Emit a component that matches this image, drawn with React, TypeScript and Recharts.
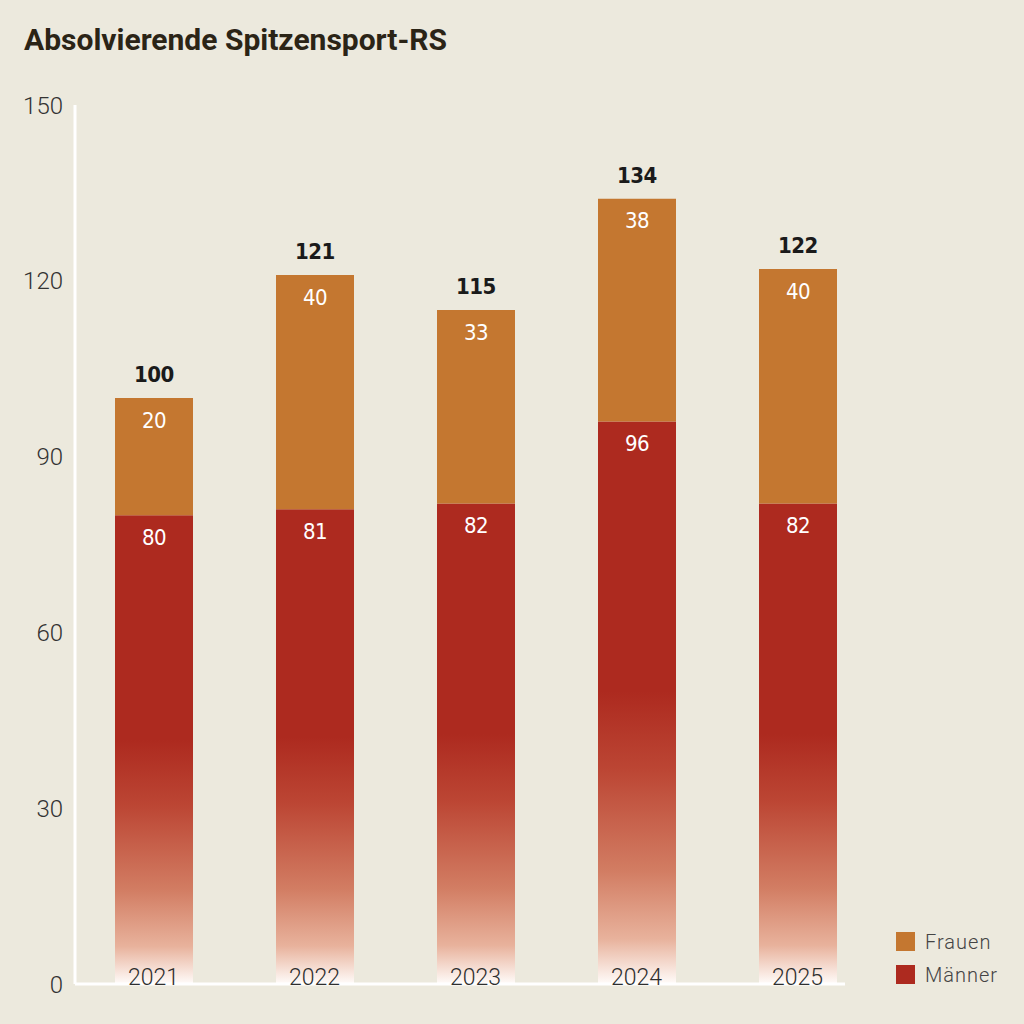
import React from 'react';
import { BarChart, Bar, XAxis, YAxis, LabelList } from 'recharts';

const YEARS = ['2021', '2022', '2023', '2024', '2025'];
const MAENNER = [80, 81, 82, 96, 82];
const FRAUEN = [20, 40, 33, 38, 40];
const Y_TICKS = [0, 30, 60, 90, 120, 150];

const BG = '#ECE9DD';
const RED = '#AD2A1F';
const ORANGE = '#C47730';
const NARROW = "'DejaVu Sans Condensed', 'DejaVu Sans', sans-serif";
const labelStyle = { fontStretch: 'condensed', letterSpacing: -0.5 } as React.CSSProperties;

const data = YEARS.map((year, i) => ({
  year,
  maenner: MAENNER[i],
  frauen: FRAUEN[i],
  total: MAENNER[i] + FRAUEN[i],
}));

const YearTick = (props: any) => {
  const { x, y, payload } = props;
  return (
    <text
      x={x}
      y={y}
      dy={1}
      textAnchor="middle"
      fontFamily="Roboto"
      fontWeight={300}
      fontSize={23}
      fill="#2e2e2e"
    >
      {payload.value}
    </text>
  );
};

const LEGEND_ITEMS = [
  { label: 'Frauen', color: ORANGE },
  { label: 'Männer', color: RED },
];

const App: React.FC = () => {
  return (
    <div style={{ position: 'absolute', left: 0, top: 0, width: 1024, height: 1024, background: BG }}>
      <div
        style={{
          position: 'absolute',
          left: 24,
          top: 22,
          fontFamily: 'Roboto',
          fontWeight: 700,
          fontSize: 30,
          color: '#2b2416',
        }}
      >
        Absolvierende Spitzensport-RS
      </div>
      <BarChart
        width={1024}
        height={1024}
        data={data}
        margin={{ top: 105, right: 179, bottom: 0, left: 0 }}
        barSize={78}
      >
        <defs>
          <linearGradient id="maennerFade" x1="0" y1="0" x2="0" y2="1">
            <stop offset="0.48" stopColor={RED} />
            <stop offset="0.62" stopColor="#BC4634" />
            <stop offset="0.8" stopColor="#D27D63" />
            <stop offset="0.92" stopColor="#E8B29C" />
            <stop offset="1" stopColor="#FFFCFA" />
          </linearGradient>
        </defs>
        <XAxis
          dataKey="year"
          height={40}
          padding={{ left: -2, right: -33 }}
          axisLine={{ stroke: '#ffffff', strokeWidth: 3 }}
          tickLine={false}
          tickSize={0}
          tickMargin={0}
          tick={<YearTick />}
          interval={0}
        />
        <YAxis
          width={75}
          domain={[0, 150]}
          ticks={Y_TICKS}
          axisLine={{ stroke: '#ffffff', strokeWidth: 3 }}
          tickLine={false}
          tickSize={4}
          tickMargin={8}
          tick={{ fontFamily: 'Roboto', fontWeight: 300, fontSize: 24, fill: '#333' }}
        />
        <Bar dataKey="maenner" name="Männer" stackId="a" fill="url(#maennerFade)" isAnimationActive={false}>
          <LabelList
            dataKey="maenner"
            position="insideTop"
            offset={14}
            fill="#ffffff"
            fontFamily={NARROW}
            style={labelStyle}
            fontSize={22}
          />
        </Bar>
        <Bar dataKey="frauen" name="Frauen" stackId="a" fill={ORANGE} isAnimationActive={false}>
          <LabelList
            dataKey="frauen"
            position="insideTop"
            offset={14}
            fill="#ffffff"
            fontFamily={NARROW}
            style={labelStyle}
            fontSize={22}
          />
          <LabelList
            dataKey="total"
            position="top"
            offset={16}
            fill="#1a1a1a"
            fontFamily={NARROW}
            style={labelStyle}
            fontWeight={700}
            fontSize={22}
          />
        </Bar>
      </BarChart>
      <div
        style={{
          position: 'absolute',
          left: 896,
          top: 925,
          fontFamily: 'Roboto',
          fontWeight: 300,
          fontSize: 20,
          color: '#444',
          letterSpacing: 1,
        }}
      >
        {LEGEND_ITEMS.map((item) => (
          <div key={item.label} style={{ display: 'flex', alignItems: 'center', height: 33 }}>
            <span style={{ width: 19, height: 19, background: item.color, display: 'inline-block', marginRight: 10 }} />
            {item.label}
          </div>
        ))}
      </div>
    </div>
  );
};

export default App;
